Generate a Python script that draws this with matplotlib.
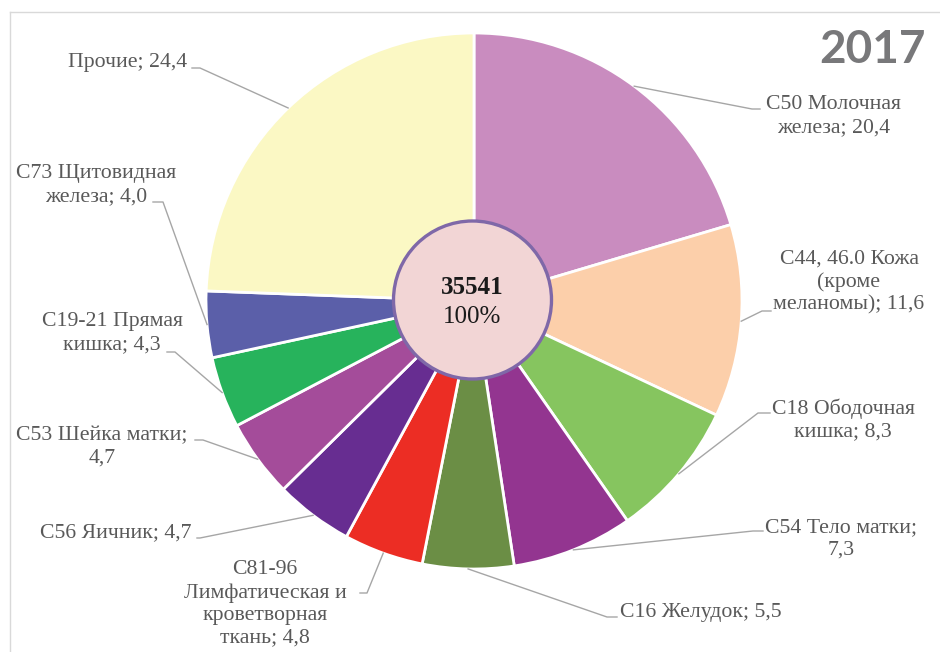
import matplotlib.pyplot as plt
import numpy as np
from matplotlib.patches import Circle
from matplotlib.lines import Line2D

# share of new cancer cases by site, %
sites = [
    "C50 Молочная\nжелеза",
    "C44, 46.0 Кожа\n(кроме\nмеланомы)",
    "C18 Ободочная\nкишка",
    "C54 Тело матки",
    "C16 Желудок",
    "C81-96\nЛимфатическая и\nкроветворная\nткань",
    "C56 Яичник",
    "C53 Шейка матки",
    "C19-21 Прямая\nкишка",
    "C73 Щитовидная\nжелеза",
    "Прочие",
]
shares = [20.4, 11.6, 8.3, 7.3, 5.5, 4.8, 4.7, 4.7, 4.3, 4.0, 24.4]
# put the value on its own line for these labels
value_on_new_line = [False, False, False, True, False, False, False, True, False, False, False]
colors = [
    "#C98CBF", "#FCCFAA", "#86C55F", "#933590", "#6B8E45", "#EC2D24",
    "#672D91", "#A44C9A", "#27B35C", "#5B5FA9", "#FBF8C4",
]
total_cases = 35541
year = "2017"

W, H = 940, 652
CX, CY, R = 474, 301, 268


def flip(y):
    # pixel rows run downward, data y runs upward
    return H - y


# label layout: text x, text y, alignment, elbow x, elbow y, line end x
label_layout = [
    (834, 116, "center", 752, 109, 760),
    (849, 282, "center", 762, 311, 771),
    (843, 420, "center", 758, 413, 770),
    (841, 539, "center", 753, 531, 763),
    (620, 612, "left", 607, 617, 617),
    (265, 604, "center", 367, 593, 360),
    (192, 533, "right", 200, 538, 197),
    (102, 447, "center", 203, 440, 195),
    (112, 333, "center", 175, 352, 167),
    (96, 185, "center", 163, 202, 153),
    (187, 62, "right", 200, 68, 192),
]

plt.rcParams["font.family"] = ["Liberation Serif", "DejaVu Serif"]

fig = plt.figure(figsize=(W / 100, H / 100), dpi=100)
ax = fig.add_axes([0, 0, 1, 1])

wedges, _ = ax.pie(
    shares,
    colors=colors,
    startangle=90,
    counterclock=False,
    center=(CX, flip(CY)),
    radius=R,
    wedgeprops=dict(edgecolor="white", linewidth=2),
)
ax.set_xlim(0, W)
ax.set_ylim(0, H)
ax.axis("off")

for w, name, val, newline, lay in zip(wedges, sites, shares, value_on_new_line, label_layout):
    tx, ty, ha, ex, ey, lx = lay
    sep = ";\n" if newline else "; "
    text = name + sep + f"{val:.1f}".replace(".", ",")

    ang = np.deg2rad((w.theta1 + w.theta2) / 2)
    px = CX + R * np.cos(ang)
    py = flip(CY) + R * np.sin(ang)
    ax.plot([px, ex, lx], [py, flip(ey), flip(ey)], color="#A6A6A6", lw=1, zorder=1)

    ax.text(tx, flip(ty), text, ha=ha, va="center", multialignment="center",
            fontsize=15.7, color="#595959", linespacing=1.25)

# total in the middle
ax.add_patch(Circle((472.5, flip(300)), 79, facecolor="#F2D5D5",
                    edgecolor="#7F68A8", linewidth=2.4, zorder=3))
ax.text(472.5, flip(287), str(total_cases), ha="center", va="center",
        fontsize=18, fontweight="bold", color="#1A1A1A", zorder=4)
ax.text(472.5, flip(317), "100%", ha="center", va="center",
        fontsize=18, color="#1A1A1A", zorder=4)

ax.text(926, flip(50), year, ha="right", va="center", fontsize=33,
        fontweight="bold", color="#78787A", family=["Lato", "DejaVu Sans"])

# thin chart-area frame along the top and left
fig.add_artist(Line2D([9.5 / W, 9.5 / W], [0, 1 - 11.5 / H], color="#D9D9D9", lw=1))
fig.add_artist(Line2D([9.5 / W, 1], [1 - 11.5 / H, 1 - 11.5 / H], color="#D9D9D9", lw=1))

fig.savefig("out.png", dpi=100)
